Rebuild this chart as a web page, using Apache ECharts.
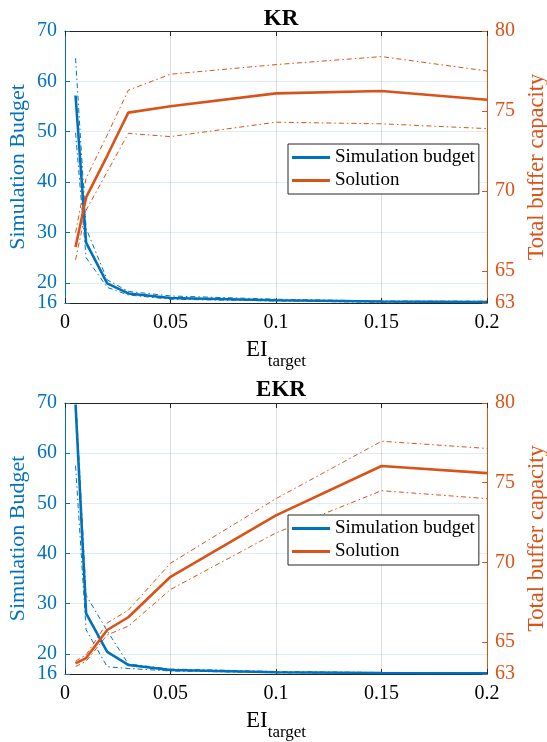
<!DOCTYPE html>
<html>
<head>
<meta charset="utf-8">
<script src="https://cdn.jsdelivr.net/npm/echarts@6/dist/echarts.min.js"></script>
<style>
  html, body { margin: 0; padding: 0; background: #fff; }
  #chart { width: 547px; height: 742px; }
</style>
</head>
<body>
<div id="chart"></div>
<script>
// EI target levels shared by both panels
const eiTarget = [0.005, 0.01, 0.02, 0.03, 0.05, 0.1, 0.15, 0.2];

// KR panel: simulation budget (mean and band) and total buffer capacity (mean and band)
const krBudget      = [57.2, 28.0, 19.9, 17.9, 17.0, 16.55, 16.3, 16.2];
const krBudgetHi    = [64.6, 30.8, 20.6, 18.3, 17.4, 16.75, 16.4, 16.35];
const krBudgetLo    = [49.8, 25.0, 19.1, 17.6, 16.75, 16.4, 16.15, 16.15];
const krSolution    = [66.5, 69.6, 72.2, 74.9, 75.3, 76.1, 76.25, 75.7];
const krSolutionHi  = [67.4, 70.8, 73.5, 76.3, 77.3, 77.9, 78.4, 77.5];
const krSolutionLo  = [65.7, 68.8, 71.2, 73.6, 73.4, 74.3, 74.2, 73.9];

// EKR panel
const ekrBudget     = [69.7, 28.1, 20.4, 17.8, 16.8, 16.35, 16.2, 16.15];
const ekrBudgetHi   = [72.0, 31.7, 24.6, 18.0, 17.0, 16.5, 16.3, 16.25];
const ekrBudgetLo   = [57.5, 24.8, 17.45, 17.1, 16.6, 16.25, 16.1, 16.1];
const ekrSolution   = [63.67, 64.0, 65.76, 66.56, 69.1, 72.95, 76.05, 75.6];
const ekrSolutionHi = [63.8, 64.2, 66.2, 67.0, 69.95, 74.0, 77.6, 77.15];
const ekrSolutionLo = [63.46, 63.8, 65.45, 66.0, 68.3, 71.85, 74.5, 74.0];

// Axis ticks
const budgetTicks   = [16, 20, 30, 40, 50, 60, 70];
const capacityTicks = [63, 65, 70, 75, 80];
const panelTitles   = ['KR', 'EKR'];
const legendNames   = ['Simulation budget', 'Solution'];

const BLUE = '#0072BD';
const ORANGE = '#D95319';
const AXIS_DARK = '#262626';
const FONT = 'Liberation Serif';

const pair = arr => arr.map((v, i) => [eiTarget[i], v]);

const chart = echarts.init(document.getElementById('chart'));

const grids = [
  { left: 65, top: 31, width: 422, height: 272 },
  { left: 65, top: 403, width: 422, height: 271 }
];

const xAxes = [];
const yAxes = [];
const series = [];

function addPanel(g, budget, budgetHi, budgetLo, sol, solHi, solLo) {
  // bottom x axis
  xAxes.push({
    type: 'value', gridIndex: g, position: 'bottom',
    min: 0, max: 0.2, interval: 0.05,
    axisLine: { show: true, onZero: false, lineStyle: { color: AXIS_DARK, width: 1 } },
    axisTick: { show: true, inside: true, length: 5, lineStyle: { color: AXIS_DARK } },
    axisLabel: { show: true, color: '#000', fontFamily: FONT, fontSize: 20, margin: 10 },
    splitLine: { show: true, lineStyle: { color: 'rgba(0,0,0,0.13)', width: 1 } },
    name: '{ei|EI}{sub|target}',
    nameLocation: 'middle', nameGap: 35,
    nameTextStyle: {
      rich: {
        ei: { fontFamily: FONT, fontSize: 23, color: '#000', verticalAlign: 'top' },
        sub: { fontFamily: FONT, fontSize: 17, lineHeight: 32, color: '#000', verticalAlign: 'bottom' }
      }
    }
  });
  // top x axis (box edge with ticks)
  xAxes.push({
    type: 'value', gridIndex: g, position: 'top',
    min: 0, max: 0.2, interval: 0.05,
    axisLine: { show: true, onZero: false, lineStyle: { color: AXIS_DARK, width: 1 } },
    axisTick: { show: true, inside: true, length: 5, lineStyle: { color: AXIS_DARK } },
    axisLabel: { show: false },
    splitLine: { show: false }
  });
  // left y axis: simulation budget
  yAxes.push({
    type: 'value', gridIndex: g, position: 'left',
    min: 16, max: 70,
    axisLine: { show: true, onZero: false, lineStyle: { color: BLUE, width: 1 } },
    axisTick: { show: true, inside: true, length: 5, customValues: budgetTicks, lineStyle: { color: BLUE } },
    axisLabel: { show: true, customValues: budgetTicks, color: BLUE, fontFamily: FONT, fontSize: 20, margin: 8 },
    splitLine: { show: true, lineStyle: { color: 'rgba(0,114,189,0.13)', width: 1 } },
    name: 'Simulation Budget', nameLocation: 'middle', nameRotate: 90, nameGap: 36,
    nameMoveOverlap: false,
    nameTextStyle: { color: BLUE, fontFamily: FONT, fontSize: 22 }
  });
  // right y axis: total buffer capacity
  yAxes.push({
    type: 'value', gridIndex: g, position: 'right',
    min: 63, max: 80,
    axisLine: { show: true, onZero: false, lineStyle: { color: ORANGE, width: 1 } },
    axisTick: { show: true, inside: true, length: 5, customValues: capacityTicks, lineStyle: { color: ORANGE } },
    axisLabel: { show: true, customValues: capacityTicks, color: ORANGE, fontFamily: FONT, fontSize: 20, margin: 8 },
    splitLine: { show: false },
    name: 'Total buffer capacity', nameLocation: 'middle', nameRotate: 90, nameGap: 37,
    nameTextStyle: { color: ORANGE, fontFamily: FONT, fontSize: 22.5 }
  });

  const xi = g * 2;
  const yl = g * 2;
  const yr = g * 2 + 1;
  const band = (name, data, color, yIndex) => ({
    name, type: 'line', xAxisIndex: xi, yAxisIndex: yIndex, data: pair(data),
    color, showSymbol: false, symbol: 'none', clip: true, silent: true,
    lineStyle: { color, width: 1, type: [5, 3, 1.5, 3] }, z: 2
  });
  const main = (name, data, color, yIndex) => ({
    name, type: 'line', xAxisIndex: xi, yAxisIndex: yIndex, data: pair(data),
    color, showSymbol: false, symbol: 'none', clip: true, silent: true,
    lineStyle: { color, width: 2.6 }, z: 3
  });
  series.push(band('budget upper ' + g, budgetHi, BLUE, yl));
  series.push(band('budget lower ' + g, budgetLo, BLUE, yl));
  series.push(main(legendNames[0], budget, BLUE, yl));
  series.push(band('solution upper ' + g, solHi, ORANGE, yr));
  series.push(band('solution lower ' + g, solLo, ORANGE, yr));
  series.push(main(legendNames[1], sol, ORANGE, yr));
}

addPanel(0, krBudget, krBudgetHi, krBudgetLo, krSolution, krSolutionHi, krSolutionLo);
addPanel(1, ekrBudget, ekrBudgetHi, ekrBudgetLo, ekrSolution, ekrSolutionHi, ekrSolutionLo);

const legendCommon = {
  orient: 'vertical', data: legendNames, icon: 'rect',
  itemWidth: 38, itemHeight: 3, itemGap: 2,
  padding: [3, 4, 3, 4],
  backgroundColor: '#fff', borderColor: '#262626', borderWidth: 1,
  selectedMode: false,
  textStyle: { color: '#000', fontFamily: FONT, fontSize: 19, lineHeight: 21 }
};

chart.setOption({
  animation: false,
  backgroundColor: '#fff',
  title: [
    { text: panelTitles[0], left: 276, top: 3, textAlign: 'center',
      textStyle: { fontFamily: FONT, fontSize: 23, fontWeight: 'bold', color: '#000' } },
    { text: panelTitles[1], left: 276, top: 374, textAlign: 'center',
      textStyle: { fontFamily: FONT, fontSize: 23, fontWeight: 'bold', color: '#000' } }
  ],
  legend: [
    Object.assign({ left: 288, top: 144 }, legendCommon),
    Object.assign({ left: 288, top: 515 }, legendCommon)
  ],
  grid: grids.map(g => Object.assign({ show: false, containLabel: false, outerBoundsMode: 'none' }, g)),
  xAxis: xAxes,
  yAxis: yAxes,
  series
});
</script>
</body>
</html>
